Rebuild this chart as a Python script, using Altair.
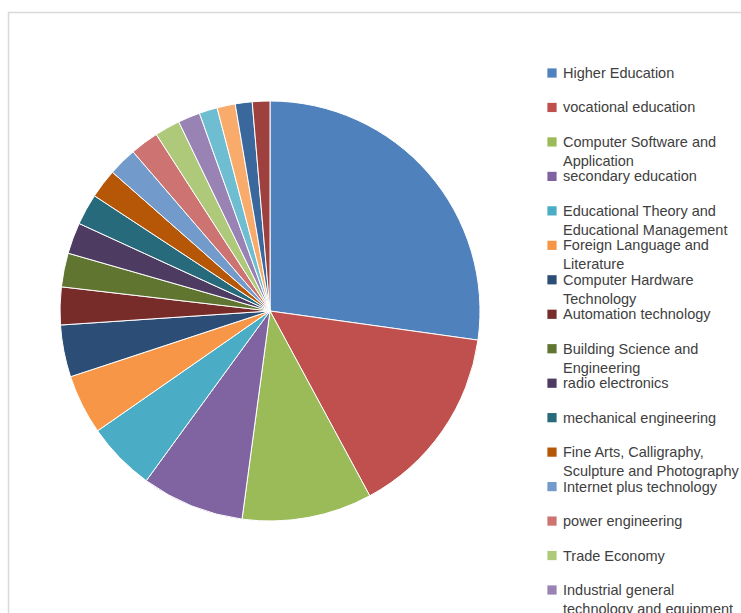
import altair as alt
import pandas as pd

# ---- data ----
categories = [
    "Higher Education", "vocational education", "Computer Software and Application",
    "secondary education", "Educational Theory and Educational Management",
    "Foreign Language and Literature", "Computer Hardware Technology",
    "Automation technology", "Building Science and Engineering", "radio electronics",
    "mechanical engineering", "Fine Arts, Calligraphy, Sculpture and Photography",
    "Internet plus technology", "power engineering", "Trade Economy",
    "Industrial general technology and equipment",
    "Other 1", "Other 2", "Other 3", "Other 4",
]
# legend label lines (as wrapped in the reference)
label_line1 = [
    "Higher Education", "vocational education", "Computer Software and",
    "secondary education", "Educational Theory and", "Foreign Language and",
    "Computer Hardware", "Automation technology", "Building Science and",
    "radio electronics", "mechanical engineering", "Fine Arts, Calligraphy,",
    "Internet plus technology", "power engineering", "Trade Economy",
    "Industrial general", "Other 1", "Other 2", "Other 3", "Other 4",
]
label_line2 = [
    "", "", "Application", "", "Educational Management", "Literature",
    "Technology", "", "Engineering", "", "", "Sculpture and Photography",
    "", "", "", "technology and equipment", "", "", "", "",
]
# share (%)
values = [27.2, 14.9, 10.0, 7.9, 5.3, 4.6, 4.0, 2.9, 2.6, 2.4,
          2.4, 2.25, 2.2, 2.2, 1.95, 1.7, 1.4, 1.4, 1.3, 1.35]
colors = [
    "#4F81BD", "#C0504D", "#9BBB59", "#8064A2", "#4BACC6", "#F79646",
    "#2C4D75", "#772C2A", "#5F7530", "#4D3B62", "#276A7C", "#B65708",
    "#729ACA", "#CD7371", "#AFC97A", "#9983B5", "#6FBDD1", "#F9AB6B",
    "#3A679C", "#9E413E",
]

df = pd.DataFrame({
    "idx": list(range(len(categories))),
    "category": categories,
    "value": values,
    "line1": label_line1,
    "line2": label_line2,
})

W, H = 741, 613
color_scale = alt.Scale(domain=categories, range=colors)
leg_y = alt.Y("idx:Q", axis=None, scale=alt.Scale(domain=[0, 15], range=[73, 590]))

frame = alt.Chart(pd.DataFrame({"a": [0]})).mark_rect(
    fill=None, stroke="#D9D9D9", strokeWidth=1.5, clip=True
).encode(
    x=alt.value(8.5), x2=alt.value(W + 20), y=alt.value(12.5), y2=alt.value(H + 20)
)

pie = alt.Chart(df).mark_arc(
    radius=210, stroke="white", strokeWidth=1
).encode(
    theta=alt.Theta("value:Q", stack=True),
    color=alt.Color("category:N", scale=color_scale, legend=None),
    order=alt.Order("idx:Q"),
    x=alt.value(270),
    y=alt.value(311),
)

swatch = alt.Chart(df).mark_point(
    shape="square", filled=True, size=85, opacity=1, clip=True
).encode(
    x=alt.value(552),
    y=leg_y,
    color=alt.Color("category:N", scale=color_scale, legend=None),
)

txt1 = alt.Chart(df).mark_text(
    align="left", baseline="middle", font="Liberation Sans", fontSize=14.5,
    color="#404040", dy=1, clip=True
).encode(x=alt.value(563), y=leg_y, text="line1:N")

txt2 = alt.Chart(df).mark_text(
    align="left", baseline="middle", font="Liberation Sans", fontSize=14.5,
    color="#404040", dy=20, clip=True
).encode(x=alt.value(563), y=leg_y, text="line2:N")

chart = alt.layer(frame, pie, swatch, txt1, txt2).properties(
    width=W, height=H, padding=0, autosize=alt.AutoSizeParams(type="none"),
    background="white",
).configure_view(stroke=None)

chart.save("out.html", embed_options={"renderer": "svg", "actions": False})
